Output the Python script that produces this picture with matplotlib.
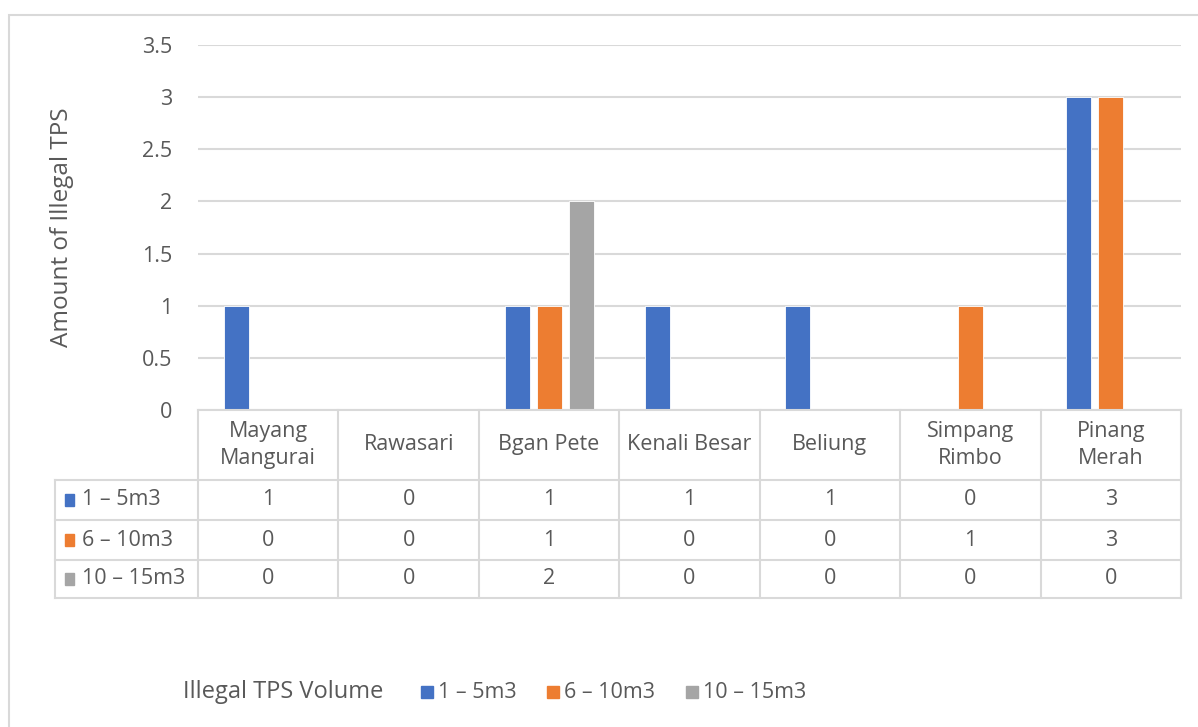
import numpy as np
import matplotlib.pyplot as plt
from matplotlib.patches import Rectangle

plt.rcParams['font.family'] = ['Open Sans', 'DejaVu Sans']

locations = ['Mayang\nMangurai', 'Rawasari', 'Bgan Pete', 'Kenali Besar',
             'Beliung', 'Simpang\nRimbo', 'Pinang\nMerah']
series = ['1 – 5m3', '6 – 10m3', '10 – 15m3']
vol_1_5 = [1, 0, 1, 1, 1, 0, 3]
vol_6_10 = [0, 0, 1, 0, 0, 1, 3]
vol_10_15 = [0, 0, 2, 0, 0, 0, 0]
colors = ['#4472C4', '#ED7D31', '#A5A5A5']

W, H = 1198, 727
txt = '#595959'
grid = '#D9D9D9'
fs = 15.5

fig = plt.figure(figsize=(W / 100, H / 100), dpi=100)

# chart frame
fig.add_artist(Rectangle((9 / W, -0.01), 1.2, 1 - 15 / H + 0.01,
                         transform=fig.transFigure, fill=False,
                         edgecolor=grid, lw=1.5))

x0, x1 = 198, 1181
ax = fig.add_axes([x0 / W, 1 - 410 / H, (x1 - x0) / W, 365 / H])
x = np.arange(len(locations))
values = [vol_1_5, vol_6_10, vol_10_15]
step, width = 0.228, 0.178
for i, (vals, c) in enumerate(zip(values, colors)):
    ax.bar(x + (i - 1) * step, vals, width, color=c,
           edgecolor='white', linewidth=0.6, zorder=3)
ax.set_xlim(-0.5, len(locations) - 0.5)
ax.set_ylim(0, 3.5)
ax.set_yticks(np.arange(0, 3.51, 0.5))
ax.set_yticklabels(['0', '0.5', '1', '1.5', '2', '2.5', '3', '3.5'])
ax.yaxis.grid(True, color=grid, lw=1.5, zorder=0)
ax.set_xticks([])
ax.tick_params(axis='y', length=0, pad=18.5, labelsize=fs, labelcolor=txt)
for s in ['top', 'right', 'left', 'bottom']:
    ax.spines[s].set_visible(False)
ax.set_ylabel('Amount of Illegal TPS', fontsize=17.5, color=txt)
ax.yaxis.set_label_coords((62 - x0) / (x1 - x0), 0.5)
ax.yaxis.label.set_va('center')

# data table under the plot
tab = fig.add_axes([x0 / W, 1 - 598 / H, (x1 - x0) / W, 188 / H])
tab.set_xlim(-0.5, len(locations) - 0.5)
tab.set_ylim(188, 0)
tab.axis('off')
rows = [0, 70, 110, 150, 188]
cw = (x1 - x0) / len(locations)
left = -0.5 - (x0 - 55) / cw
lk = dict(color=grid, lw=1.5, clip_on=False)
tab.plot([-0.5, len(locations) - 0.5], [0, 0], **lk)
for r in rows[1:]:
    tab.plot([left, len(locations) - 0.5], [r, r], **lk)
for b in np.arange(len(locations) + 1) - 0.5:
    tab.plot([b, b], [0, 188], **lk)
tab.plot([left, left], [70, 188], **lk)

for j, name in enumerate(locations):
    tab.text(j, 35, name, ha='center', va='center', fontsize=fs,
             color=txt, linespacing=1.4)
for i, (vals, c, name) in enumerate(zip(values, colors, series)):
    yc = (rows[i + 1] + rows[i + 2]) / 2
    tab.add_patch(Rectangle((left + 10 / cw, yc - 6), 9 / cw, 12,
                            color=c, clip_on=False))
    tab.text(left + 27 / cw, yc, name, ha='left', va='center',
             fontsize=fs, color=txt)
    for j, v in enumerate(vals):
        tab.text(j, yc, str(v), ha='center', va='center', fontsize=fs,
                 color=txt)

# legend at the bottom
ly = 1 - 692 / H
fig.text(183 / W, ly, 'Illegal TPS Volume', ha='left', va='center',
         fontsize=17, color=txt)
for px, c, name in zip([421, 547, 686], colors, series):
    fig.add_artist(Rectangle((px / W, ly - 6 / H), 12 / W, 12 / H,
                             color=c, transform=fig.transFigure))
    fig.text((px + 17) / W, ly, name, ha='left', va='center',
             fontsize=fs, color=txt)

fig.savefig('out.png', dpi=100)
